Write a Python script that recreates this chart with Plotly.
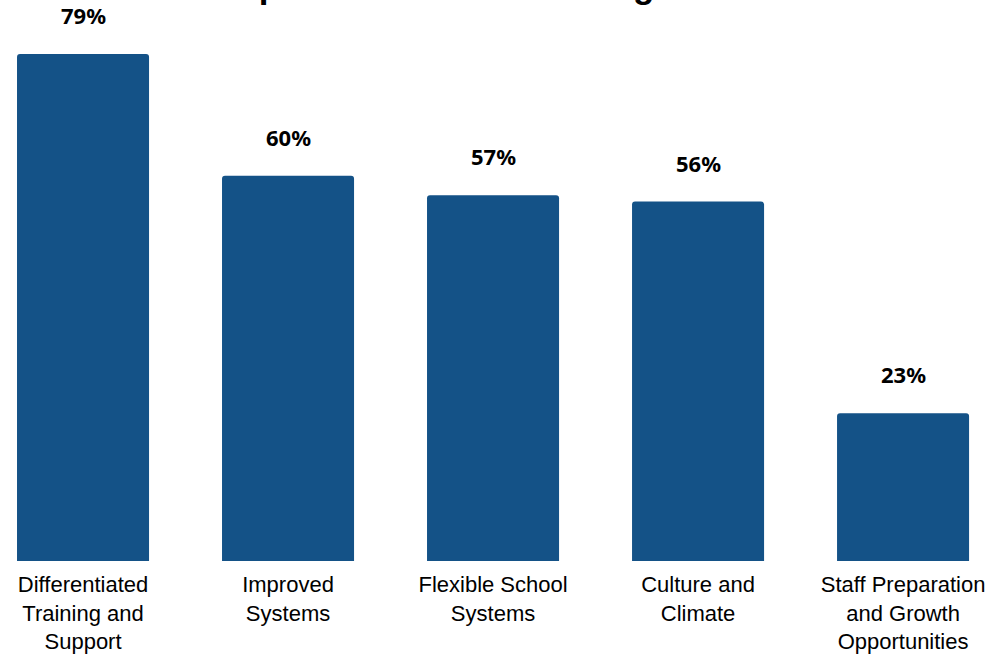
import plotly.graph_objects as go

categories = [
    "Differentiated<br>Training and<br>Support",
    "Improved<br>Systems",
    "Flexible School<br>Systems",
    "Culture and<br>Climate",
    "Staff Preparation<br>and Growth<br>Opportunities",
]
values = [79, 60, 57, 56, 23]
value_labels = ["79%", "60%", "57%", "56%", "23%"]
title_text = "Improvement Area Strategies"

positions = list(range(len(categories)))

fig = go.Figure()
fig.add_trace(go.Bar(
    x=positions,
    y=values,
    width=0.644,
    marker=dict(color="#145287", line=dict(width=0)),
    hoverinfo="skip",
))

for xp, v, lab in zip(positions, values, value_labels):
    fig.add_annotation(
        x=xp, y=v, xref="x", yref="y",
        text="<b>" + lab + "</b>",
        showarrow=False, yanchor="bottom", yshift=22,
        font=dict(family="Noto Sans, Open Sans, sans-serif", size=22, color="#000000"),
    )

fig.add_annotation(
    x=0.457, y=1, xref="paper", yref="paper",
    text="<b>" + title_text + "</b>",
    showarrow=False, yanchor="bottom", xanchor="center", yshift=-7,
    font=dict(family="Liberation Sans, Arial, sans-serif", size=35, color="#000000"),
)

fig.update_layout(
    width=1007, height=654,
    margin=dict(l=0, r=0, t=0, b=93),
    paper_bgcolor="white", plot_bgcolor="white",
    showlegend=False,
    barcornerradius=3,
    xaxis=dict(
        range=[-0.405, 4.507],
        tickmode="array", tickvals=positions, ticktext=categories,
        showgrid=False, zeroline=False, showline=False, ticks="",
        ticklabelstandoff=8, automargin=False,
        tickfont=dict(family="Liberation Sans, Arial, sans-serif", size=22, color="#000000"),
    ),
    yaxis=dict(
        range=[0, 87.4], automargin=False,
        visible=False, showgrid=False, zeroline=False,
    ),
)

fig.write_html("out.html")
